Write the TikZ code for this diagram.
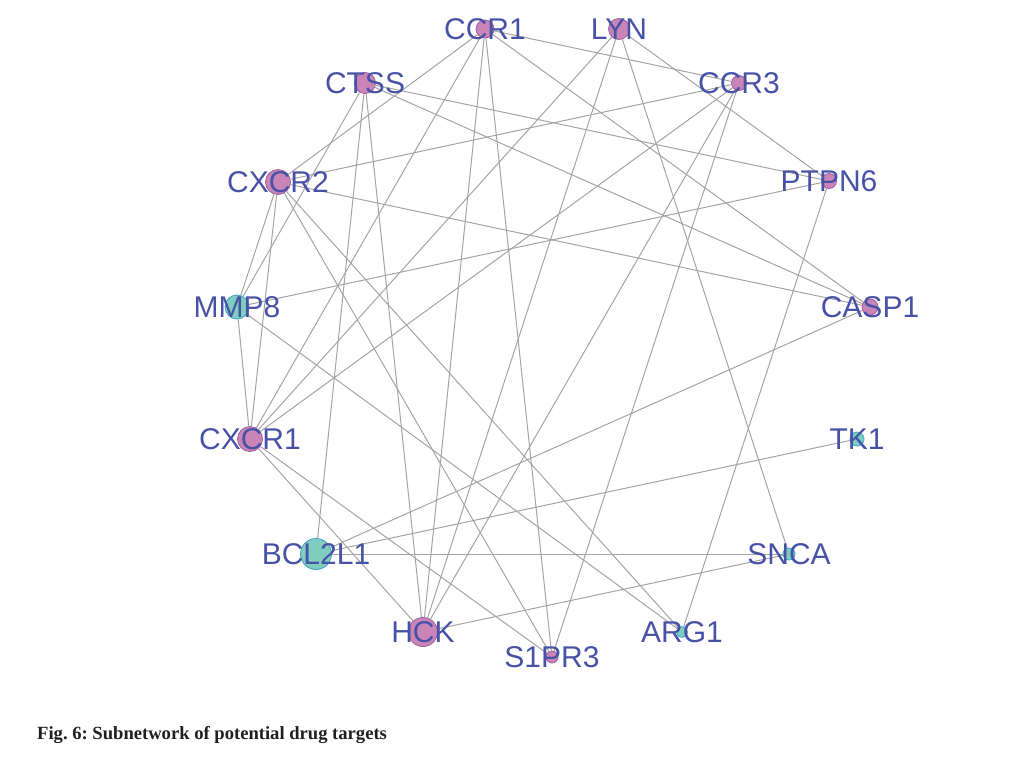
\documentclass[tikz,border=0pt]{standalone}
\usepackage{fontspec}
\setmainfont{Liberation Sans}
\newfontfamily\capfont{Liberation Serif}
\usetikzlibrary{backgrounds}
\definecolor{lblblue}{HTML}{4752A6}
\definecolor{pinkfill}{HTML}{C984B8}
\definecolor{pinkline}{HTML}{9A5F9E}
\definecolor{tealfill}{HTML}{7ECDBF}
\definecolor{tealline}{HTML}{3F9FC9}
\definecolor{edgegray}{HTML}{A4A4A4}
\frenchspacing
\begin{document}
\begin{tikzpicture}[x=1pt,y=-1pt,
  pinknode/.style={circle,draw=pinkline,fill=pinkfill,line width=0.8pt,inner sep=0pt},
  tealnode/.style={circle,draw=tealline,fill=tealfill,line width=0.8pt,inner sep=0pt},
  lbl/.style={text=lblblue,font=\fontsize{30}{30}\selectfont,inner sep=0pt},
  edge/.style={draw=edgegray,line width=1pt}]
\useasboundingbox (0,0) rectangle (1019,756);
% nodes
\node[pinknode,minimum size=18pt] (ccr1) at (485,29) {};
\node[pinknode,minimum size=21pt] (lyn) at (619,29) {};
\node[pinknode,minimum size=15pt] (ccr3) at (739,83) {};
\node[pinknode,minimum size=21pt] (ctss) at (365,83) {};
\node[pinknode,minimum size=25pt] (cxcr2) at (278,182) {};
\node[pinknode,minimum size=15pt] (ptpn6) at (829,181) {};
\node[tealnode,minimum size=24pt] (mmp8) at (237,307) {};
\node[pinknode,minimum size=16pt] (casp1) at (870,307) {};
\node[pinknode,minimum size=25pt] (cxcr1) at (250,439) {};
\node[tealnode,minimum size=14pt] (tk1) at (857,439) {};
\node[tealnode,minimum size=31pt] (bcl2l1) at (316,554) {};
\node[tealnode,minimum size=12pt] (snca) at (789,554) {};
\node[pinknode,minimum size=29pt] (hck) at (423,632) {};
\node[tealnode,minimum size=11pt] (arg1) at (682,632) {};
\node[pinknode,minimum size=12pt] (s1pr3) at (552,657) {};
% edges
\begin{scope}[on background layer]
\draw[edge] (ccr1) -- (ccr3);
\draw[edge] (ccr1) -- (casp1);
\draw[edge] (ccr1) -- (cxcr2);
\draw[edge] (ccr1) -- (cxcr1);
\draw[edge] (ccr1) -- (hck);
\draw[edge] (ccr1) -- (s1pr3);
\draw[edge] (ctss) -- (ptpn6);
\draw[edge] (ctss) -- (casp1);
\draw[edge] (ctss) -- (mmp8);
\draw[edge] (ctss) -- (bcl2l1);
\draw[edge] (ctss) -- (hck);
\draw[edge] (cxcr2) -- (ccr3);
\draw[edge] (cxcr2) -- (casp1);
\draw[edge] (cxcr2) -- (mmp8);
\draw[edge] (cxcr2) -- (cxcr1);
\draw[edge] (cxcr2) -- (s1pr3);
\draw[edge] (cxcr2) -- (arg1);
\draw[edge] (lyn) -- (ptpn6);
\draw[edge] (lyn) -- (cxcr1);
\draw[edge] (lyn) -- (hck);
\draw[edge] (lyn) -- (snca);
\draw[edge] (ccr3) -- (hck);
\draw[edge] (ccr3) -- (s1pr3);
\draw[edge] (ccr3) -- (cxcr1);
\draw[edge] (ptpn6) -- (mmp8);
\draw[edge] (ptpn6) -- (arg1);
\draw[edge] (casp1) -- (bcl2l1);
\draw[edge] (tk1) -- (bcl2l1);
\draw[edge] (bcl2l1) -- (snca);
\draw[edge] (snca) -- (hck);
\draw[edge] (mmp8) -- (arg1);
\draw[edge] (mmp8) -- (cxcr1);
\draw[edge] (cxcr1) -- (hck);
\draw[edge] (cxcr1) -- (s1pr3);
\end{scope}
% labels
\node[lbl] (ccr1l) at (ccr1) {CCR1};
\node[lbl] (lynl) at (lyn) {LYN};
\node[lbl] (ccr3l) at (ccr3) {CCR3};
\node[lbl] (ctssl) at (ctss) {CTSS};
\node[lbl] (cxcr2l) at (cxcr2) {CXCR2};
\node[lbl] (ptpn6l) at (ptpn6) {PTPN6};
\node[lbl] (mmp8l) at (mmp8) {MMP8};
\node[lbl] (casp1l) at (casp1) {CASP1};
\node[lbl] (cxcr1l) at (cxcr1) {CXCR1};
\node[lbl] (tk1l) at (tk1) {TK1};
\node[lbl] (bcl2l1l) at (bcl2l1) {BCL2L1};
\node[lbl] (sncal) at (snca) {SNCA};
\node[lbl] (hckl) at (hck) {HCK};
\node[lbl] (arg1l) at (arg1) {ARG1};
\node[lbl] (s1pr3l) at (s1pr3) {S1PR3};
% caption
\node[anchor=base west,inner sep=0pt,text=black!88,font=\capfont\bfseries\fontsize{18.6}{20}\selectfont] (caption) at (37,739) {Fig. 6: Subnetwork of potential drug targets};
\end{tikzpicture}
\end{document}
